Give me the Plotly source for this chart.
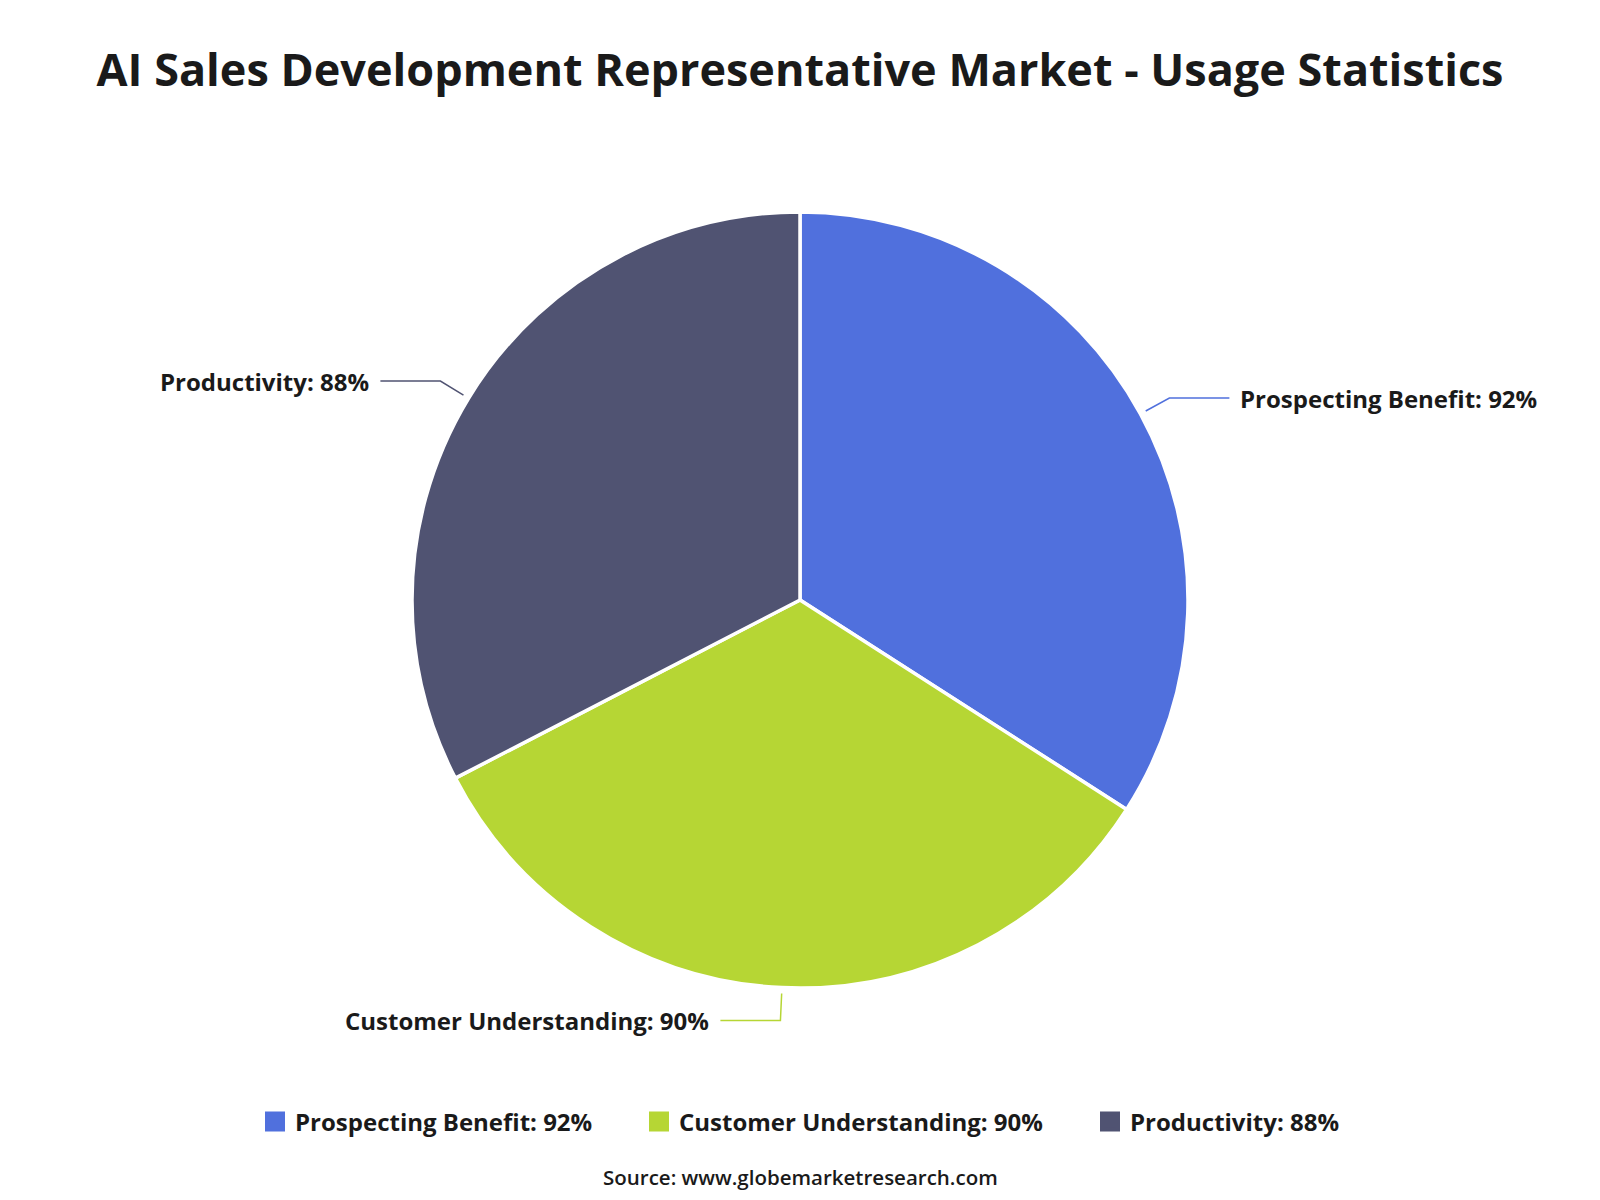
import math
import plotly.graph_objects as go

# ---- data ----
categories = ["Prospecting Benefit", "Customer Understanding", "Productivity"]
values = [92, 90, 88]
colors = ["#5070DD", "#B6D634", "#505372"]
title_text = "AI Sales Development Representative Market - Usage Statistics"
source_text = "Source: www.globemarketresearch.com"

labels = [f"{c}: {v}%" for c, v in zip(categories, values)]

W, H = 1600, 1200
CX, CY, R = 800, 600, 388          # pie centre / radius in pixels
FONT = "Open Sans, Noto Sans, DejaVu Sans, sans-serif"
legend_left_px = [255, 639, 1090]  # layout: left edge of each legend entry

fig = go.Figure()
fig.add_trace(go.Pie(
    labels=labels,
    values=values,
    sort=False,
    direction="clockwise",
    rotation=0,
    marker=dict(colors=colors, line=dict(color="white", width=3.5)),
    textinfo="none",
    hoverinfo="label",
    showlegend=False,
    domain=dict(x=[(CX - R) / W, (CX + R) / W],
                y=[(H - CY - R) / H, (H - CY + R) / H]),
))

# legend entries (larger square swatches), one legend box per entry for spacing
legend_ids = ["legend", "legend2", "legend3"]
for lab, col, lid in zip(labels, colors, legend_ids):
    fig.add_trace(go.Scatter(
        x=[None], y=[None], mode="markers", name=lab, legend=lid,
        marker=dict(symbol="square", size=16, color=col,
                    line=dict(color=col, width=4)),
        showlegend=True, hoverinfo="skip"))

# ---- outside labels with leader lines derived from the slice angles ----
def px2paper(x, y):
    return x / W, 1 - y / H

total = sum(values)
cum = 0
shapes = []
annotations = []
for lab, v, col in zip(labels, values, colors):
    mid = (cum + v / 2) / total * 2 * math.pi   # clockwise from top
    cum += v
    sx, sy = CX + (R + 6) * math.sin(mid), CY - (R + 6) * math.cos(mid)
    kx, ky = CX + (R + 33) * math.sin(mid), CY - (R + 33) * math.cos(mid)
    right = math.sin(mid) > 0.05
    ex = kx + 60 if right else kx - 60
    path_pts = [px2paper(sx, sy), px2paper(kx, ky), px2paper(ex, ky)]
    path = "M {} {} L {} {} L {} {}".format(*[c for p in path_pts for c in p])
    shapes.append(dict(type="path", path=path, xref="paper", yref="paper",
                       line=dict(color=col, width=1.5)))
    tx, ty = px2paper(ex + (9 if right else -9), ky)
    annotations.append(dict(
        x=tx, y=ty, xref="paper", yref="paper", text=f"<b>{lab}</b>",
        showarrow=False, xanchor="left" if right else "right", yanchor="middle",
        font=dict(family=FONT, size=24, color="#1a1a1a")))

annotations.append(dict(
    x=0.5, y=1 - 1177 / H, xref="paper", yref="paper", text=source_text,
    showarrow=False, xanchor="center", yanchor="middle",
    font=dict(family=FONT, size=20.5, color="#1a1a1a", weight=600)))

legend_style = dict(orientation="h", yanchor="middle", y=1 - 1122 / H,
                    xanchor="left", bgcolor="rgba(0,0,0,0)",
                    font=dict(family=FONT, size=24, color="#1a1a1a", weight="bold"),
                    itemsizing="trace")

layout_legends = {}
for lid, lx in zip(legend_ids, legend_left_px):
    layout_legends[lid] = dict(legend_style, x=lx / W)

fig.update_layout(
    width=W, height=H,
    margin=dict(l=0, r=0, t=0, b=0),
    paper_bgcolor="white", plot_bgcolor="white",
    xaxis=dict(visible=False), yaxis=dict(visible=False),
    title=dict(text=f"<b>{title_text}</b>", x=0.5, xanchor="center",
               y=1 - 70 / H, yanchor="middle",
               font=dict(family=FONT, size=45, color="#1a1a1a")),
    showlegend=True,
    shapes=shapes,
    annotations=annotations,
    **layout_legends,
)

fig.write_html("out.html")
